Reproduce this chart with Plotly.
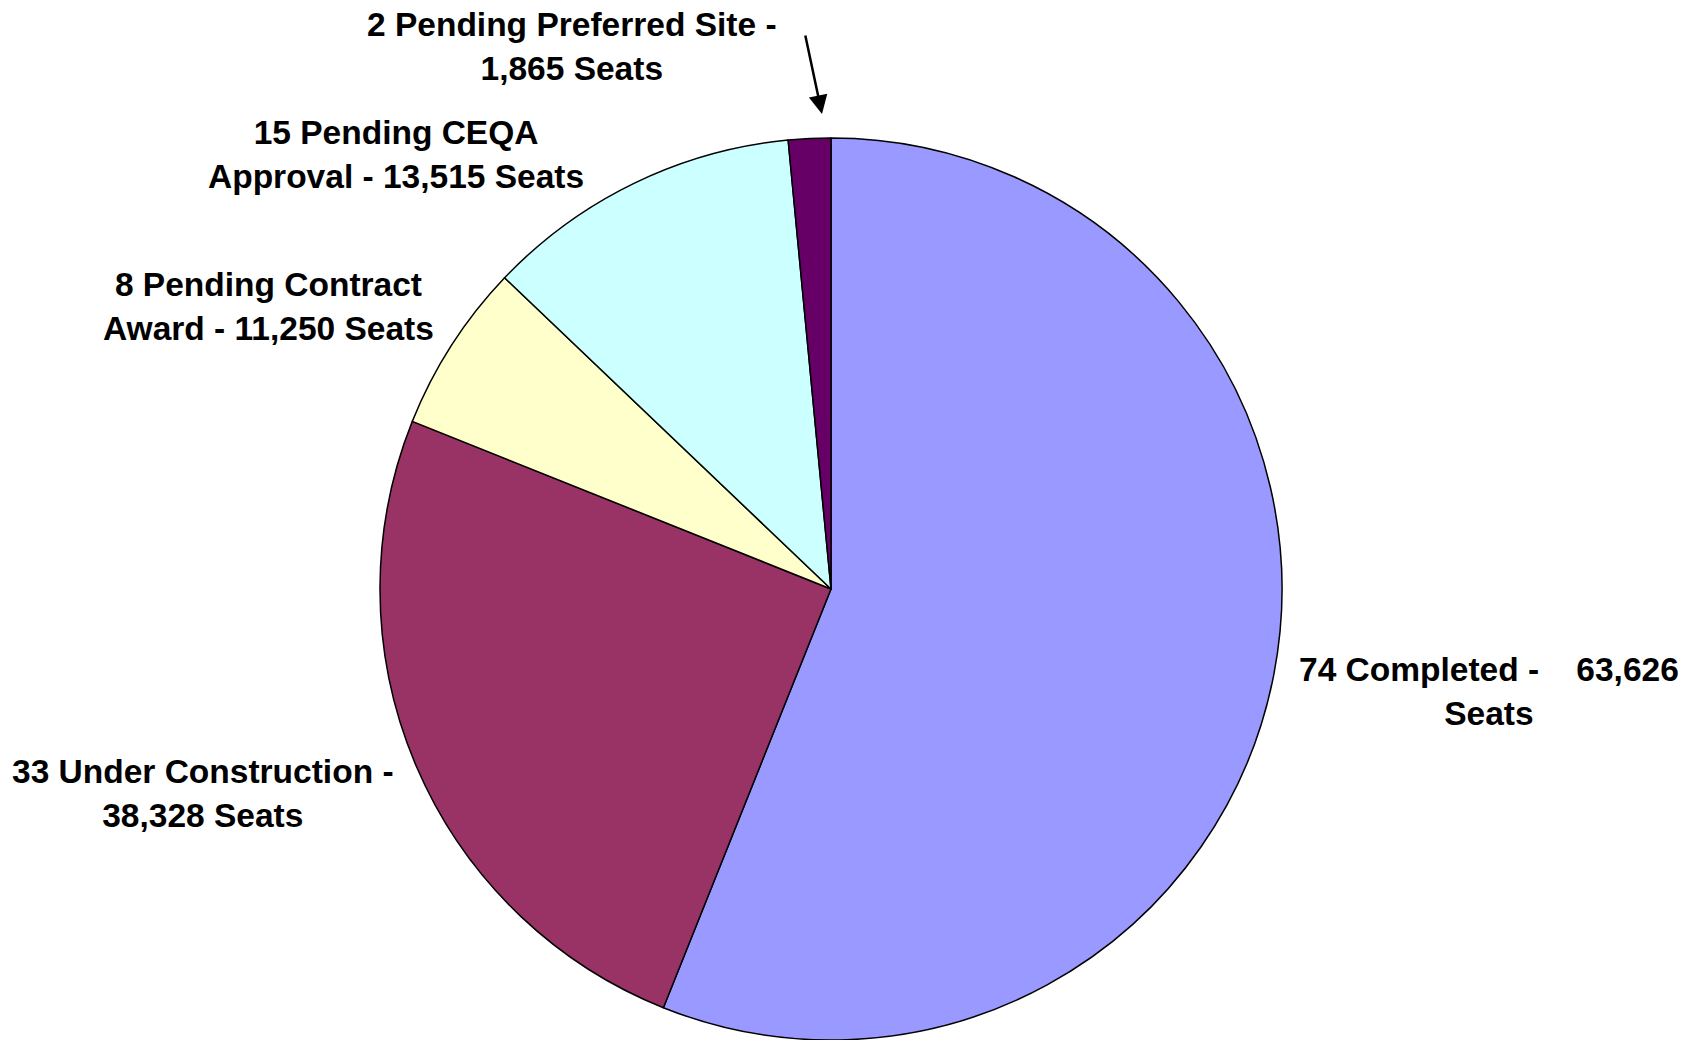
import plotly.graph_objects as go

# Data
categories = ["Completed", "Under Construction", "Pending Contract Award",
              "Pending CEQA Approval", "Pending Preferred Site"]
project_counts = [74, 33, 8, 15, 2]
seats = [63626, 38328, 11250, 13515, 1865]
label_texts = [
    "74 Completed -    63,626<br>Seats",
    "33 Under Construction -<br>38,328 Seats",
    "8 Pending Contract<br>Award - 11,250 Seats",
    "15 Pending CEQA<br>Approval - 13,515 Seats",
    "2 Pending Preferred Site -<br>1,865 Seats",
]
colors = ["#9999FF", "#993366", "#FFFFCC", "#CCFFFF", "#660066"]

W, H = 1702, 1040


def px(X):
    return X / W


def py(Y):
    return 1 - Y / H


cx, r = 831, 452
top = 138

fig = go.Figure(go.Pie(
    labels=categories,
    values=project_counts,
    customdata=seats,
    sort=False,
    direction="clockwise",
    rotation=0,
    textinfo="none",
    hovertemplate="%{label}: %{value} projects, %{customdata:,} seats<extra></extra>",
    marker=dict(colors=colors, line=dict(color="black", width=1.5)),
    domain=dict(x=[px(cx - r), px(cx + r)], y=[0, py(top)]),
    showlegend=False,
))

# label positions in page pixels (center of text block)
label_pos = [(1489, 691), (203, 793), (268, 306), (396, 154), (572, 47)]
font = dict(family="Liberation Sans, Arial, sans-serif", size=33.5, color="black")
for txt, (X, Y) in zip(label_texts, label_pos):
    fig.add_annotation(
        x=px(X), y=py(Y), xref="paper", yref="paper",
        text="<b>" + txt + "</b>", showarrow=False, align="center",
        xanchor="center", yanchor="middle", font=font,
    )

# arrow pointing to the small slice
fig.add_annotation(
    x=px(822), y=py(114), xref="paper", yref="paper",
    ax=-17, ay=-80, text="", showarrow=True,
    arrowhead=2, arrowsize=1.5, arrowwidth=2.5, arrowcolor="black",
)

fig.update_layout(
    width=W, height=H,
    margin=dict(l=0, r=0, t=0, b=0),
    paper_bgcolor="white", plot_bgcolor="white",
)

fig.write_html("out.html", config={"displayModeBar": False},
               post_script="document.body.style.margin='0';")
